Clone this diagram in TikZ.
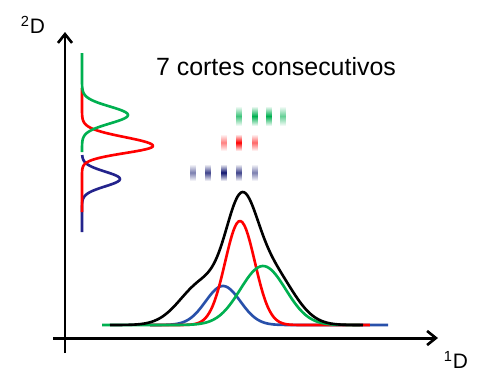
\documentclass[tikz,border=0pt]{standalone}
\usepackage{fontspec}
\setmainfont{Liberation Sans}
\usetikzlibrary{arrows.meta}

\definecolor{cgreen}{RGB}{0,176,80}
\definecolor{cred}{RGB}{255,0,0}
\definecolor{cblue}{RGB}{40,80,170}
\definecolor{cnavy}{RGB}{35,35,140}
\definecolor{cdash}{RGB}{15,20,110}

\begin{document}
\begin{tikzpicture}
  [x=0.02cm, y=-0.02cm,
    axis/.style={line width=1.7pt, -{Straight Barb[length=5pt, width=8pt, line width=1.5pt]}},
    curve/.style={line width=1.5pt, line join=round, smooth},
    band/.style={top color=white, bottom color=white, middle color=#1},
    every node/.style={inner sep=0pt, text=black},
]
  \useasboundingbox (0,0) rectangle (491,390);

  % axes
  \coordinate (vbot) at (65,353);
  \coordinate (vtop) at (65,32);
  \coordinate (hleft) at (53,338);
  \coordinate (hright) at (438,338);
  \draw[axis] (vbot) -- (vtop);
  \draw[axis] (hleft) -- (hright);

  \node (ylab) at (33,25) {\fontsize{11.9}{14}\selectfont\textsuperscript{2}D};
  \node (xlab) at (456,360) {\fontsize{11.9}{14}\selectfont\textsuperscript{1}D};
  \node (title) at (276,67) {\fontsize{14.2}{17}\selectfont 7 cortes consecutivos};

  % second dimension, one peak per cut
  \draw[curve, cnavy] plot[variable=\t, domain=155:232, samples=80]
    ({82+38*exp(-((\t-179)/10.5)^2)}, \t);
  \draw[curve, cred] plot[variable=\t, domain=88:212, samples=120]
    ({82+71*exp(-((\t-146)/((\t<146)?12.5:10))^2)}, \t);
  \draw[curve, cgreen] plot[variable=\t, domain=53:152, samples=100]
    ({82+46*exp(-((\t-115)/12)^2)}, \t);

  % first dimension
  \draw[curve, cblue] plot[domain=150:388, samples=120]
    (\x, {325-39*exp(-((\x-223)/24.6)^2)});
  \draw[curve, cred] plot[domain=150:370, samples=120]
    (\x, {325-104*exp(-((\x-240)/21)^2)});
  \draw[curve, cgreen] plot[domain=102:360, samples=120]
    (\x, {325-59*exp(-((\x-263)/32)^2)});
  \draw[curve, black] plot[domain=110:363, samples=150]
    (\x, {325-98*exp(-((\x-241)/22)^2)-42*exp(-((\x-203)/32)^2)-55*exp(-((\x-270)/32)^2)});

  % the cuts
  \foreach \px/\op in {239/0.75, 255/1, 269/1, 283/0.6}
    \shade[band=cgreen, opacity=\op] (\px-2.3,106) rectangle (\px+2.3,126);
  \foreach \px/\op in {224/0.5, 239/1, 255/0.6}
    \shade[band=cred, opacity=\op] (\px-2.3,134) rectangle (\px+2.3,151);
  \foreach \px/\op in {193/0.55, 208/0.8, 224/1, 239/0.8, 255/0.55}
    \shade[band=cdash, opacity=\op] (\px-2.3,164) rectangle (\px+2.3,181);
\end{tikzpicture}
\end{document}
